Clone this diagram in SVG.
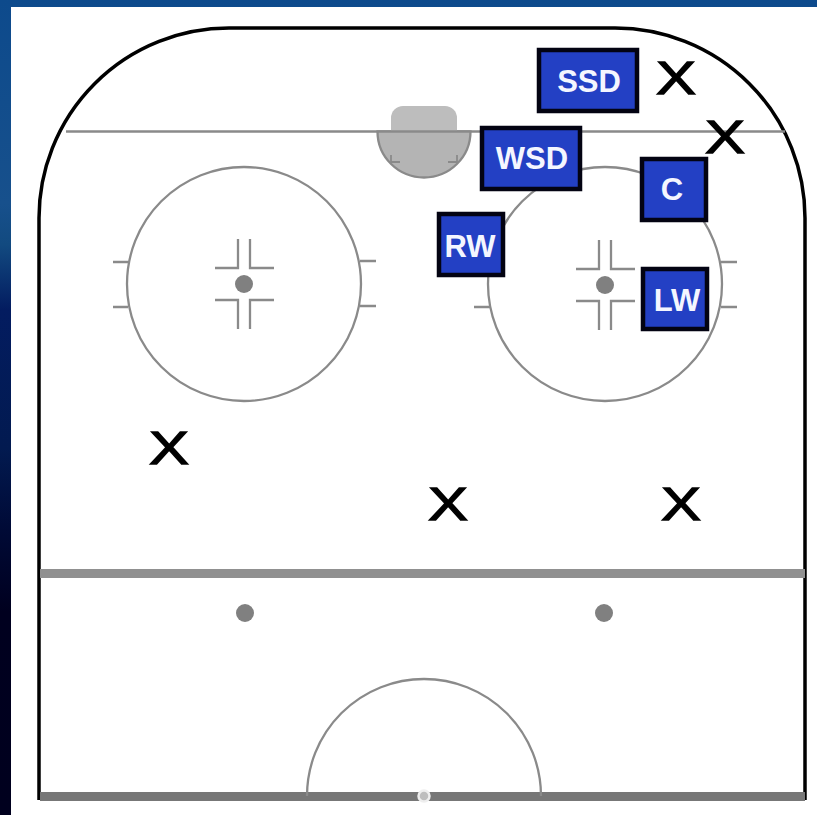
<svg xmlns="http://www.w3.org/2000/svg" width="817" height="815" viewBox="0 0 817 815">
<style>
.thin{fill:none;stroke:#8a8a8a;stroke-width:2.300}
.dot{fill:#808080}
.box{fill:#2340c4;stroke:#030312;stroke-width:4.500}
.lbl{font-family:"Liberation Sans",Arial,sans-serif;font-weight:700;font-size:31px;fill:#f4f6ff;text-anchor:middle}
.x{font-family:"Liberation Sans",Arial,sans-serif;font-size:47px;fill:#000;stroke:#000;stroke-width:1.300}
</style>
<defs>
<linearGradient id="bg" x1="0" y1="0" x2="0" y2="1">
<stop offset="0" stop-color="#0d4a8c"/>
<stop offset=".25" stop-color="#17508c"/>
<stop offset=".3" stop-color="#124a80"/>
<stop offset=".38" stop-color="#031c60"/>
<stop offset=".55" stop-color="#021a50"/>
<stop offset=".65" stop-color="#000a36"/>
<stop offset=".75" stop-color="#00001f"/>
<stop offset="1" stop-color="#00001e"/>
</linearGradient>
</defs>
<rect width="817" height="815" fill="url(#bg)"/>
<rect x="11" y="7" width="806" height="808" fill="#fff"/>
<g id="rink">
<path d="M39 800V218A190 190 0 0 1 229 28H615A190 190 0 0 1 805 218V800" fill="none" stroke="#000" stroke-width="3.500"/>
<path class="thin" d="M66 131.500H785"/>
<rect x="391" y="106" width="66" height="40" rx="12" fill="#bdbdbd"/>
<path d="M377.500 131.500A46.500 46 0 0 0 470.500 131.500Z" fill="#b4b4b4" stroke="#8a8a8a" stroke-width="2.300"/>
<path d="M391 155V162H400M457 155V162H448" fill="none" stroke="#8a8a8a" stroke-width="1.800"/>
<rect x="40" y="569" width="765" height="9" fill="#909090"/>
<rect x="40" y="792" width="765" height="9" fill="#777"/>
<circle class="dot" cx="245" cy="613" r="9"/>
<circle class="dot" cx="604" cy="613" r="9"/>
<path class="thin" d="M307 796A117 117 0 0 1 541 796"/>
<circle cx="424" cy="796" r="5.500" fill="#bdbdbd" stroke="#eee" stroke-width="2.500"/>
</g>
<g id="circle-left">
<circle class="thin" cx="244" cy="284" r="117"/>
<path class="thin" d="M113 262H128M113 307H128M360 261H376M360 306H376"/>
<path class="thin" d="M215 268H238V239M250 239V268H274M215 300H238V329M250 329V300H274"/>
<circle class="dot" cx="244" cy="284" r="9"/>
</g>
<g id="circle-right">
<circle class="thin" cx="605" cy="284" r="117"/>
<path class="thin" d="M474 307H490M721 262H737M721 307H737"/>
<path class="thin" d="M576 269H599V240M611 240V269H635M576 301H599V330M611 330V301H635"/>
<circle class="dot" cx="605" cy="285" r="9"/>
</g>
<g id="node-ssd"><rect class="box" x="539" y="50" width="98" height="61"/><text class="lbl" x="589" y="92">SSD</text></g>
<g id="node-wsd"><rect class="box" x="482" y="128" width="98" height="61"/><text class="lbl" x="532" y="169">WSD</text></g>
<g id="node-c"><rect class="box" x="642" y="159" width="64" height="61"/><text class="lbl" x="672" y="200">C</text></g>
<g id="node-rw"><rect class="box" x="439" y="214" width="64" height="61"/><text class="lbl" x="470" y="257">RW</text></g>
<g id="node-lw"><rect class="box" x="643" y="269" width="64" height="60"/><text class="lbl" x="677" y="311">LW</text></g>
<g id="opponents">
<text class="x" x="656" y="94" textLength="40" lengthAdjust="spacingAndGlyphs">X</text>
<text class="x" x="705" y="153" textLength="40" lengthAdjust="spacingAndGlyphs">X</text>
<text class="x" x="149" y="464" textLength="40" lengthAdjust="spacingAndGlyphs">X</text>
<text class="x" x="428" y="520" textLength="40" lengthAdjust="spacingAndGlyphs">X</text>
<text class="x" x="661" y="520" textLength="40" lengthAdjust="spacingAndGlyphs">X</text>
</g>
<g id="connectors"></g>
</svg>
